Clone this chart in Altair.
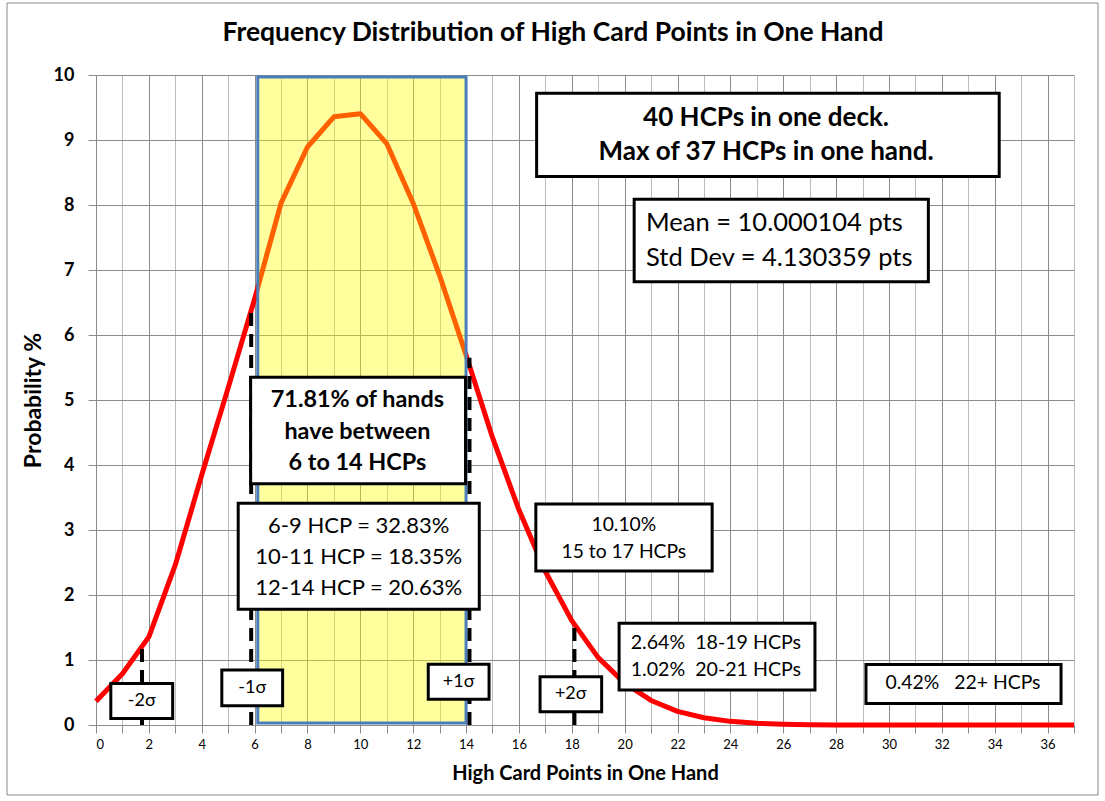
import altair as alt
import pandas as pd

# ---------------- data ----------------
hcp = list(range(38))
prob = [0.3639, 0.7884, 1.3561, 2.4624, 3.8454, 5.1862, 6.5541, 8.0281, 8.8922, 9.3562,
        9.4051, 8.9447, 8.0269, 6.9143, 5.6933, 4.4237, 3.3109, 2.3617, 1.6051, 1.0362,
        0.6435, 0.3779, 0.2100, 0.1119, 0.0559, 0.0264, 0.0117, 0.0049, 0.0019, 0.0007,
        0.0002, 0.0001, 0.0, 0.0, 0.0, 0.0, 0.0, 0.0]

# +/- sigma markers (mean 10.0, sd 4.13)
sigma_x = [1.74, 5.87, 14.13, 18.10]
sigma_top = [1.20, 6.37, 5.65, 1.60]

# highlighted band 6..14 HCP
band = {"x": 6.12, "x2": 14.0, "y": 0.03, "y2": 9.97}

FONT = "Lato"
TITLE = "Frequency Distribution of High Card Points in One Hand"

# annotation boxes (data units): box corners, text lines, first-line anchor, size, weight, align, line height
notes = [
    dict(x=16.67, x2=34.17, y=8.44, y2=9.72, lines=["40 HCPs in one deck.", "Max of 37 HCPs in one hand."],
         tx=25.35, ty=9.34, size=26, bold=True, align="center", lh=34),
    dict(x=20.36, x2=31.49, y=6.82, y2=8.09, lines=["Mean = 10.000104 pts", "Std Dev = 4.130359 pts"],
         tx=20.81, ty=7.72, size=25.5, bold=False, align="left", lh=35),
    dict(x=5.85, x2=13.98, y=3.71, y2=5.35, lines=["71.81% of hands", "have between", "6 to 14 HCPs"],
         tx=9.89, ty=5.0, size=23.4, bold=True, align="center", lh=31.7),
    dict(x=5.38, x2=14.50, y=1.78, y2=3.41, lines=["6-9 HCP = 32.83%", "10-11 HCP = 18.35%", "12-14 HCP = 20.63%"],
         tx=9.94, ty=3.06, size=22, bold=False, align="center", lh=31),
    dict(x=16.64, x2=23.31, y=2.37, y2=3.40, lines=["10.10%", "15 to 17 HCPs"],
         tx=19.97, ty=3.08, size=19.3, bold=False, align="center", lh=27.7),
    dict(x=19.79, x2=27.20, y=0.54, y2=1.565, lines=["2.64%\u00a0\u00a018-19 HCPs", "1.02%\u00a0\u00a020-21 HCPs"],
         tx=23.45, ty=1.266, size=19.6, bold=False, align="center", lh=27.3),
    dict(x=29.13, x2=36.51, y=0.33, y2=0.93, lines=["0.42%\u00a0\u00a0\u00a022+ HCPs"],
         tx=32.8, ty=0.64, size=19.4, bold=False, align="center", lh=20),
    dict(x=0.56, x2=2.90, y=0.10, y2=0.64, lines=["-2σ"], tx=1.73, ty=0.37, size=18, bold=False, align="center", lh=20),
    dict(x=4.76, x2=7.06, y=0.297, y2=0.846, lines=["-1σ"], tx=5.91, ty=0.57, size=18, bold=False, align="center", lh=20),
    dict(x=12.57, x2=14.87, y=0.395, y2=0.934, lines=["+1σ"], tx=13.72, ty=0.665, size=18, bold=False, align="center", lh=20),
    dict(x=16.80, x2=19.13, y=0.205, y2=0.743, lines=["+2σ"], tx=17.96, ty=0.475, size=18, bold=False, align="center", lh=20),
]

# ---------------- chart ----------------
xs = alt.Scale(domain=[0, 37], nice=False, zero=False)
ys = alt.Scale(domain=[0, 10], nice=False)

x_axis = alt.Axis(
    values=list(range(38)),
    labelExpr="datum.value % 2 === 0 ? datum.label : ''",
    grid=True,
    gridColor={"condition": {"test": "datum.value % 2 === 0", "value": "#8C8C8C"}, "value": "#BDBDBD"},
    gridWidth=1,
    ticks=True, tickSize=8, tickColor="#8C8C8C",
    domain=True, domainColor="#8C8C8C",
    labelFont=FONT, labelFontSize=13, labelColor="#000000", labelPadding=5,
    labelAngle=0,
    title="High Card Points in One Hand",
    titleY=48, titleBaseline="middle",
)
y_axis = alt.Axis(
    values=list(range(11)),
    grid=True, gridColor="#8C8C8C", gridWidth=1,
    ticks=True, tickSize=8, tickColor="#8C8C8C",
    domain=False,
    labelFont=FONT, labelFontSize=18, labelFontWeight="bold", labelColor="#000000", labelPadding=14,
    title="Probability %",
    titleX=-63, titleBaseline="middle", titleAngle=270,
)


def X(f):
    return alt.X(f, type="quantitative", scale=xs, axis=x_axis)


def Y(f):
    return alt.Y(f, type="quantitative", scale=ys, axis=y_axis)


line_df = pd.DataFrame({"hcp": hcp, "prob": prob})
line = alt.Chart(line_df).mark_line(color="#FF0000", strokeWidth=5, strokeJoin="round").encode(
    x=X("hcp"), y=Y("prob"),
)

band_layer = alt.Chart(pd.DataFrame([band])).mark_rect(
    fill="#FFFF00", fillOpacity=0.38, stroke="#4A7EBB", strokeWidth=3, strokeOpacity=1
).encode(x=X("x"), x2="x2:Q", y=Y("y"), y2="y2:Q")

sig_df = pd.DataFrame({"x": sigma_x, "top": sigma_top, "bottom": [0.0] * 4})
sig_layer = alt.Chart(sig_df).mark_rule(color="#000000", strokeWidth=4, strokeDash=[13, 8]).encode(
    x=X("x"), y=Y("bottom"), y2="top:Q",
)

layers = [line, band_layer, sig_layer]

for n in notes:
    d = pd.DataFrame([{"x": n["x"], "x2": n["x2"], "y": n["y"], "y2": n["y2"],
                       "tx": n["tx"], "ty": n["ty"], "t": n["lines"]}])
    box = alt.Chart(d).mark_rect(fill="#FFFFFF", stroke="#000000", strokeWidth=3).encode(
        x=X("x"), x2="x2:Q", y=Y("y"), y2="y2:Q",
    )
    txt = alt.Chart(d).mark_text(
        font=FONT, fontSize=n["size"], fontWeight="bold" if n["bold"] else "normal",
        align=n["align"], baseline="middle", lineHeight=n["lh"], color="#000000",
    ).encode(x=X("tx"), y=Y("ty"), text="t")
    layers += [box, txt]

one = alt.Data(values=[{"t": TITLE}])
frame = alt.Chart(one).mark_rect(filled=False, stroke="#898989", strokeWidth=1).encode(
    x=alt.value(-89), x2=alt.value(1002), y=alt.value(-72), y2=alt.value(720)
)
title = alt.Chart(one).mark_text(
    font=FONT, fontSize=26.5, fontWeight="bold", color="#000000", align="center", baseline="middle"
).encode(x=alt.value(457), y=alt.value(-42), text="t:N")
layers += [frame, title]

chart = (
    alt.layer(*layers)
    .properties(
        width=978, height=650,
        autosize=alt.AutoSizeParams(type="none"),
        padding={"left": 96, "top": 75, "right": 31, "bottom": 76},
    )
    .configure_view(stroke=None)
    .configure(background="#FFFFFF")
    .configure_axisX(titleFont=FONT, titleFontSize=20, titleFontWeight="bold", titleColor="#000000")
    .configure_axisY(titleFont=FONT, titleFontSize=23, titleFontWeight="bold", titleColor="#000000")
)

chart.save("out.html", embed_options={"renderer": "svg", "actions": False})
